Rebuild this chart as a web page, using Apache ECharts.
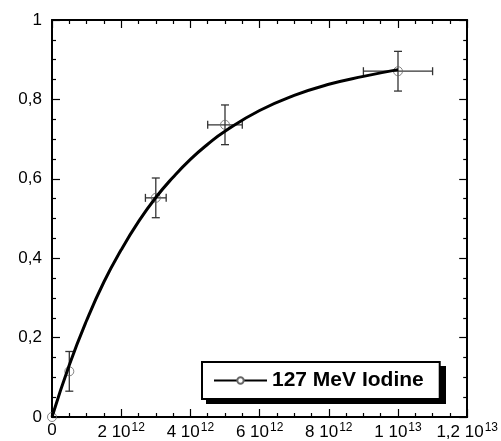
<!DOCTYPE html>
<html>
<head>
    <meta charset="utf-8">
    <style>
        body { margin: 0; background-color: #fff; }
        #main { width: 501px; height: 441px; }
    </style>
    <script src="https://cdn.jsdelivr.net/npm/echarts@6/dist/echarts.min.js"></script>
</head>
<body>
    <div id="main"></div>
    <script type="text/javascript">
        // measured points (fluence, fraction) with error bars
        var pointX = [0, 0.5e12, 3e12, 5e12, 1e13];
        var pointY = [0, 0.115, 0.552, 0.736, 0.871];
        var errX = [0, 0, 0.3e12, 0.5e12, 1e12];
        var errY = [0, 0.05, 0.05, 0.05, 0.05];

        // fitted curve
        var fitX = [0, 0.5e12, 1e12, 1.5e12, 2e12, 2.5e12, 3e12, 3.5e12, 4e12, 4.5e12, 5e12, 6e12, 7e12, 8e12, 9e12, 1e13];
        var fitY = [0, 0.131, 0.243, 0.34, 0.421, 0.492, 0.553, 0.604, 0.649, 0.687, 0.720, 0.772, 0.810, 0.838, 0.858, 0.875];

        var seriesName = '127 MeV Iodine';

        var pts = [], fit = [];
        for (var i = 0; i < pointX.length; i++) {
            pts.push([pointX[i], pointY[i], errX[i], errY[i]]);
        }
        for (var j = 0; j < fitX.length; j++) {
            fit.push([fitX[j], fitY[j]]);
        }

        function xLabel(v) {
            if (v === 0) return '0';
            var e = Math.floor(Math.log10(v) + 1e-9);
            var m = Math.round(v / Math.pow(10, e) * 10) / 10;
            return String(m).replace('.', ',') + ' 10{sup|' + e + '}';
        }

        var font = 'Liberation Sans, Arial, sans-serif';
        var tickStyle = { inside: true, length: 8, lineStyle: { color: '#000', width: 1.2 } };
        var minorStyle = { show: true, splitNumber: 4, length: 4, lineStyle: { color: '#000', width: 1.2 } };
        var lineStyleAx = { show: true, onZero: false, lineStyle: { color: '#000', width: 2 } };
        var markStyle = { color: '#fff', borderColor: '#666', borderWidth: 1 };

        var myChart = echarts.init(document.getElementById('main'));

        var option = {
            animation: false,
            backgroundColor: '#fff',
            grid: { left: 52, right: 32, top: 20, bottom: 24 },
            // drop shadow behind the legend box
            graphic: [{
                type: 'rect',
                left: 206, top: 366,
                shape: { width: 240, height: 38 },
                style: { fill: '#000' },
                z: 90
            }],
            legend: {
                data: [seriesName],
                left: 202,
                top: 362,
                padding: [8, 16, 8, 11],
                itemWidth: 53,
                itemHeight: 8,
                backgroundColor: '#fff',
                borderColor: '#000',
                borderWidth: 2,
                borderRadius: 0,
                z: 100,
                textStyle: { fontFamily: font, fontWeight: 'bold', fontSize: 21, color: '#000' }
            },
            xAxis: [{
                type: 'value',
                min: 0, max: 1.2e13, interval: 2e12,
                axisLine: lineStyleAx,
                axisTick: tickStyle,
                minorTick: minorStyle,
                splitLine: { show: false },
                axisLabel: {
                    margin: 5,
                    formatter: xLabel,
                    fontFamily: font,
                    fontSize: 17,
                    color: '#000',
                    rich: {
                        sup: { fontFamily: font, fontSize: 12, verticalAlign: 'top', padding: [0, 0, 9, 1] }
                    }
                }
            }, {
                type: 'value', position: 'top',
                min: 0, max: 1.2e13, interval: 2e12,
                axisLine: lineStyleAx,
                axisTick: tickStyle,
                minorTick: minorStyle,
                splitLine: { show: false },
                axisLabel: { show: false }
            }],
            yAxis: [{
                type: 'value',
                min: 0, max: 1, interval: 0.2,
                axisLine: lineStyleAx,
                axisTick: tickStyle,
                minorTick: minorStyle,
                splitLine: { show: false },
                axisLabel: {
                    margin: 10,
                    fontFamily: font,
                    fontSize: 17,
                    color: '#000',
                    formatter: function (v) { return String(Math.round(v * 10) / 10).replace('.', ','); }
                }
            }, {
                type: 'value', position: 'right',
                min: 0, max: 1, interval: 0.2,
                axisLine: lineStyleAx,
                axisTick: tickStyle,
                minorTick: minorStyle,
                splitLine: { show: false },
                axisLabel: { show: false }
            }],
            series: [{
                name: seriesName,
                type: 'line',
                smooth: true,
                data: fit,
                showSymbol: false,
                symbol: 'circle',
                symbolSize: 9,
                lineStyle: { color: '#000', width: 3 },
                itemStyle: markStyle,
                z: 5
            }, {
                name: 'errors',
                type: 'custom',
                data: pts,
                renderItem: function (params, api) {
                    var x = api.value(0), y = api.value(1), ex = api.value(2), ey = api.value(3);
                    var st = { stroke: '#333', lineWidth: 1.3 };
                    var cap = 4;
                    var kids = [];
                    if (ey > 0) {
                        var a = api.coord([x, y + ey]), b = api.coord([x, y - ey]);
                        kids.push({ type: 'line', shape: { x1: a[0], y1: a[1], x2: b[0], y2: b[1] }, style: st });
                        kids.push({ type: 'line', shape: { x1: a[0] - cap, y1: a[1], x2: a[0] + cap, y2: a[1] }, style: st });
                        kids.push({ type: 'line', shape: { x1: b[0] - cap, y1: b[1], x2: b[0] + cap, y2: b[1] }, style: st });
                    }
                    if (ex > 0) {
                        var c = api.coord([x - ex, y]), d = api.coord([x + ex, y]);
                        kids.push({ type: 'line', shape: { x1: c[0], y1: c[1], x2: d[0], y2: d[1] }, style: st });
                        kids.push({ type: 'line', shape: { x1: c[0], y1: c[1] - cap, x2: c[0], y2: c[1] + cap }, style: st });
                        kids.push({ type: 'line', shape: { x1: d[0], y1: d[1] - cap, x2: d[0], y2: d[1] + cap }, style: st });
                    }
                    return { type: 'group', children: kids };
                },
                z: 2
            }, {
                name: 'points',
                type: 'scatter',
                data: pts,
                symbol: 'circle',
                symbolSize: 9,
                itemStyle: { color: 'rgba(255,255,255,0)', borderColor: '#666', borderWidth: 1 },
                z: 4
            }]
        };

        myChart.setOption(option);
    </script>
</body>
</html>
